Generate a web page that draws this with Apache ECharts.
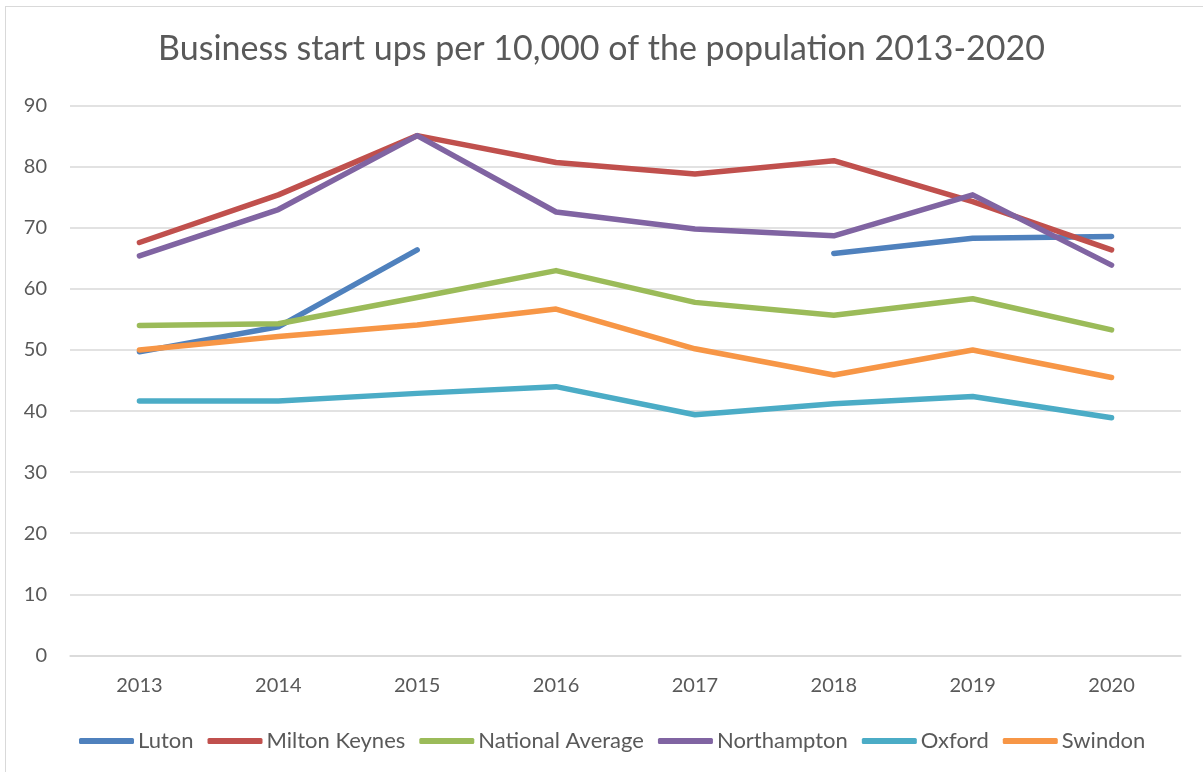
<!DOCTYPE html>
<html><head><meta charset="utf-8">
<script src="https://cdn.jsdelivr.net/npm/echarts@6/dist/echarts.min.js"></script>
<style>
html,body{margin:0;padding:0;background:#fff;}
#frame{position:absolute;left:5px;top:6px;width:1210px;height:780px;border:1px solid #d9d9d9;box-sizing:border-box;}
#c{position:absolute;left:0;top:0;width:1203px;height:772px;}
</style></head>
<body><div id="frame"></div><div id="c"></div>
<script>
const categories = ['2013','2014','2015','2016','2017','2018','2019','2020'];
const luton = [49.7, 53.8, 66.4, null, null, 65.8, 68.3, 68.6];
const miltonKeynes = [67.6, 75.4, 85.1, 80.7, 78.8, 81.0, 74.3, 66.4];
const nationalAverage = [54.0, 54.3, 58.6, 63.0, 57.8, 55.7, 58.4, 53.3];
const northampton = [65.4, 73.0, 85.1, 72.6, 69.8, 68.7, 75.4, 63.9];
const oxford = [41.65, 41.65, 42.9, 44.0, 39.4, 41.2, 42.4, 38.9];
const swindon = [50.0, 52.2, 54.1, 56.7, 50.2, 45.9, 50.0, 45.5];
const seriesNames = ['Luton','Milton Keynes','National Average','Northampton','Oxford','Swindon'];
const seriesData = [luton, miltonKeynes, nationalAverage, northampton, oxford, swindon];
const colors = ['#4F81BD','#C0504D','#9BBB59','#8064A2','#4BACC6','#F79646'];
const font = 'Lato, "Open Sans", sans-serif';
const chart = echarts.init(document.getElementById('c'));
chart.setOption({
  animation:false,
  color: colors,
  title:{text:'Business start ups per 10,000 of the population 2013-2020', left:'center', top:27,
    textStyle:{fontFamily:font, fontSize:34, fontWeight:'normal', color:'#595959'}},
  grid:{left:70, right:22, top:105.7, bottom:116.6},
  legend:{top:725, left:74, icon:'roundRect', itemWidth:55, itemHeight:6, itemGap:14,
    textStyle:{fontFamily:font, fontSize:22, color:'#595959', padding:[0,0,0,-1]}, data:seriesNames},
  xAxis:{type:'category', data:categories, boundaryGap:true,
    axisLine:{lineStyle:{color:'#d9d9d9', width:1.5}}, axisTick:{show:false},
    axisLabel:{fontFamily:font, fontSize:20, color:'#595959', margin:20}},
  yAxis:{type:'value', min:0, max:90, interval:10,
    axisLine:{show:false}, axisTick:{show:false},
    splitLine:{lineStyle:{color:'#d9d9d9', width:1.5}},
    axisLabel:{fontFamily:font, fontSize:20, color:'#595959', margin:23}},
  series: seriesNames.map((n,i)=>({name:n, type:'line', data:seriesData[i], showSymbol:false, symbol:'none',
    lineStyle:{width:5.5, cap:'round', join:'round', color:colors[i]}, itemStyle:{color:colors[i]}, connectNulls:false}))
});
</script></body></html>
